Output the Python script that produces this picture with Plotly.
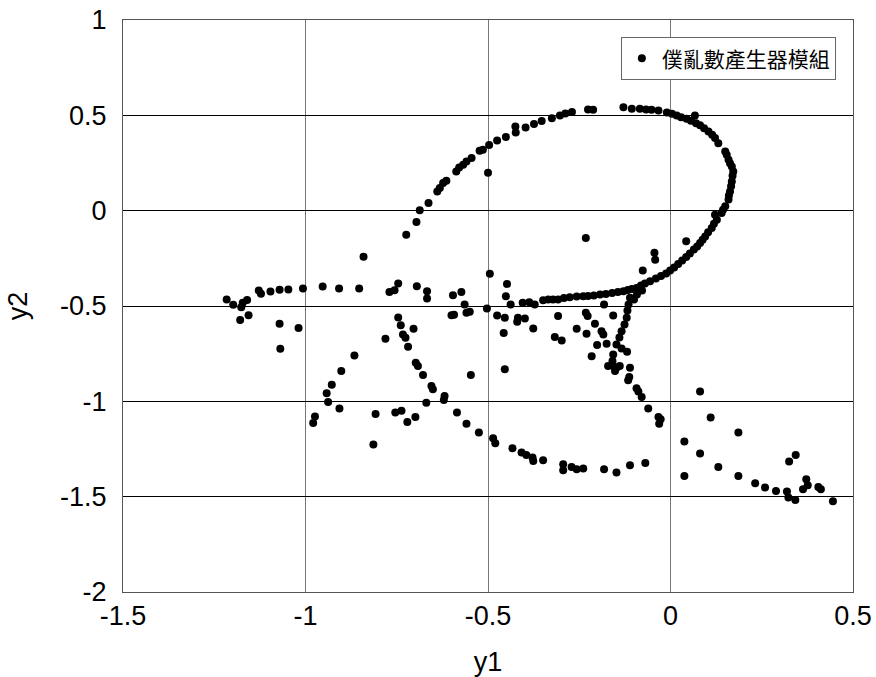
import plotly.graph_objects as go

# ---- data (y1, y2) grouped by visual structure ----
left_row_x = [-1.216,-1.198,-1.176,-1.172,-1.160,-1.179,-1.156,-1.128,-1.122,-1.096,-1.071,-1.047,-1.007,-0.953,-0.908,-0.853,-0.770,-0.756,-0.746,-1.071,-1.019,-1.069,-0.841]
left_row_y = [-0.466,-0.494,-0.506,-0.483,-0.468,-0.574,-0.548,-0.419,-0.436,-0.424,-0.415,-0.414,-0.408,-0.398,-0.408,-0.408,-0.426,-0.417,-0.382,-0.593,-0.616,-0.724,-0.242]

lower_arc_x = [-0.746,-0.739,-0.733,-0.726,-0.719,-0.698,-0.692,-0.678,-0.655,-0.651,-0.619,-0.621,-0.585,-0.559,-0.525,-0.486,-0.480,-0.433,-0.408,-0.395,-0.378,-0.376,-0.349,-0.294,-0.294,-0.271,-0.257,-0.239,-0.182,-0.148,-0.111,-0.069]
lower_arc_y = [-0.560,-0.601,-0.649,-0.666,-0.714,-0.797,-0.815,-0.862,-0.920,-0.937,-0.972,-0.993,-1.059,-1.117,-1.164,-1.194,-1.220,-1.246,-1.269,-1.281,-1.295,-1.313,-1.309,-1.330,-1.361,-1.344,-1.356,-1.352,-1.356,-1.373,-1.335,-1.323]

left_arc_x = [-0.781,-0.866,-0.902,-0.928,-0.942,-0.938,-0.907,-0.974,-0.979,-0.808,-0.754,-0.737,-0.721,-0.814,-0.699,-0.669,-0.547,-0.454,-0.704]
left_arc_y = [-0.672,-0.759,-0.841,-0.913,-0.958,-1.004,-1.037,-1.080,-1.114,-1.066,-1.058,-1.049,-1.108,-1.227,-1.082,-1.007,-0.862,-0.832,-0.619]

loop_left_x = [-0.724,-0.696,-0.687,-0.663,-0.639,-0.632,-0.623,-0.614,-0.587,-0.579,-0.568,-0.559,-0.545,-0.523,-0.514,-0.500,-0.497,-0.475,-0.451,-0.424,-0.425,-0.397,-0.374,-0.353,-0.325,-0.303,-0.288,-0.270,-0.226,-0.212,-0.232]
loop_left_y = [-0.126,-0.059,0.002,0.040,0.101,0.119,0.145,0.157,0.206,0.227,0.241,0.258,0.276,0.314,0.319,0.199,0.344,0.368,0.387,0.410,0.441,0.436,0.454,0.470,0.485,0.499,0.509,0.517,0.530,0.529,-0.143]

loop_right_x = [-0.129,-0.106,-0.084,-0.067,-0.052,-0.033,-0.010,0.004,0.017,0.029,0.044,0.067,0.056,0.070,0.081,0.092,0.104,0.114,0.122,0.131,0.150,0.154,0.159,0.163,0.168,0.172,0.170,0.168,0.166,0.163,0.160,0.159,0.150,0.144,0.140,0.122,0.127,0.119,0.113,0.103,0.095,0.088,0.081,0.043]
loop_right_y = [0.543,0.534,0.534,0.531,0.529,0.525,0.515,0.508,0.499,0.490,0.482,0.499,0.471,0.458,0.448,0.432,0.415,0.398,0.381,0.354,0.310,0.293,0.267,0.249,0.232,0.206,0.183,0.153,0.128,0.101,0.079,0.058,0.023,0.005,-0.012,-0.021,-0.047,-0.068,-0.091,-0.113,-0.135,-0.152,-0.169,-0.161]

tail_x = [0.073,0.064,0.053,0.043,0.032,0.021,0.010,-0.001,-0.012,-0.026,-0.040,-0.056,-0.070,-0.081,-0.093,-0.106,-0.117,-0.129,-0.144,-0.160,-0.177,-0.193,-0.210,-0.226,-0.239,-0.257,-0.276,-0.292,-0.308,-0.322,-0.335,-0.349,-0.372,-0.387,-0.405]
tail_y = [-0.188,-0.204,-0.225,-0.243,-0.262,-0.280,-0.298,-0.314,-0.330,-0.343,-0.356,-0.370,-0.382,-0.393,-0.405,-0.411,-0.416,-0.423,-0.427,-0.432,-0.437,-0.440,-0.445,-0.448,-0.449,-0.450,-0.454,-0.458,-0.466,-0.466,-0.466,-0.470,-0.492,-0.480,-0.483]

branch_x = [-0.111,-0.115,-0.118,-0.120,-0.126,-0.134,-0.140,-0.148,-0.134,-0.119,-0.111,-0.113,-0.116,-0.093,-0.088,-0.079,-0.061,-0.033,-0.027,-0.031,-0.092,-0.078,-0.100]
branch_y = [-0.457,-0.492,-0.524,-0.562,-0.597,-0.632,-0.665,-0.702,-0.723,-0.740,-0.824,-0.873,-0.890,-0.932,-0.949,-0.977,-1.037,-1.082,-1.094,-1.117,-0.440,-0.419,-0.466]

middle_x = [-0.695,-0.667,-0.667,-0.596,-0.573,-0.564,-0.559,-0.550,-0.600,-0.593,-0.495,-0.503,-0.448,-0.451,-0.438,-0.475,-0.454,-0.457,-0.418,-0.420,-0.399,-0.376,-0.308,-0.317,-0.232,-0.227,-0.157,-0.182,-0.207,-0.257,-0.230,-0.189,-0.184,-0.298,-0.044,-0.042,-0.076,-0.201,-0.175,-0.216,-0.157,-0.171,-0.157,-0.148,-0.139,-0.152,-0.159]
middle_y = [-0.396,-0.423,-0.461,-0.443,-0.426,-0.492,-0.536,-0.530,-0.548,-0.546,-0.331,-0.513,-0.384,-0.449,-0.492,-0.550,-0.562,-0.642,-0.562,-0.583,-0.565,-0.618,-0.553,-0.663,-0.536,-0.553,-0.550,-0.492,-0.593,-0.619,-0.646,-0.632,-0.649,-0.681,-0.221,-0.257,-0.314,-0.705,-0.698,-0.763,-0.754,-0.815,-0.815,-0.824,-0.815,-0.841,-0.789]

right_tail_x = [0.038,0.081,0.081,0.038,0.110,0.186,0.131,0.186,0.232,0.259,0.289,0.319,0.323,0.342,0.325,0.343,0.363,0.372,0.376,0.405,0.412,0.445]
right_tail_y = [-1.211,-0.949,-1.274,-1.391,-1.085,-1.164,-1.344,-1.391,-1.429,-1.452,-1.470,-1.473,-1.504,-1.518,-1.316,-1.281,-1.461,-1.408,-1.440,-1.449,-1.461,-1.524]

series_name = "僕亂數產生器模組"
x_ticks = [-1.5, -1, -0.5, 0, 0.5]
y_ticks = [1, 0.5, 0, -0.5, -1, -1.5, -2]

all_x = (left_row_x + lower_arc_x + left_arc_x + loop_left_x + loop_right_x
         + tail_x + branch_x + middle_x + right_tail_x)
all_y = (left_row_y + lower_arc_y + left_arc_y + loop_left_y + loop_right_y
         + tail_y + branch_y + middle_y + right_tail_y)

fig = go.Figure()
fig.add_trace(go.Scatter(
    x=all_x, y=all_y, mode="markers", name=series_name,
    marker=dict(color="black", size=8, line=dict(width=0)),
    showlegend=True,
))

tick_font = dict(family="Liberation Sans, Arial, sans-serif", size=27, color="black")

fig.update_layout(
    width=876, height=677,
    margin=dict(l=123, r=23, t=20, b=85, autoexpand=False),
    paper_bgcolor="white", plot_bgcolor="white",
    showlegend=True,
    legend=dict(
        x=0.682, y=0.97, xanchor="left", yanchor="top",
        bgcolor="white", bordercolor="#666", borderwidth=1,
        font=dict(family="Noto Sans CJK TC", size=21, color="black"),
    ),
    xaxis=dict(
        range=[-1.5, 0.5], tickvals=x_ticks, ticktext=[f"{v:g}" for v in x_ticks],
        showgrid=True, gridcolor="#777", gridwidth=1, zeroline=False,
        showline=True, linecolor="#555", linewidth=1, mirror=True,
        ticks="", ticklabeloverflow="allow",
        tickfont=tick_font,
        title=dict(text="y1", font=tick_font, standoff=24),
    ),
    yaxis=dict(
        range=[-2, 1], tickvals=y_ticks, ticktext=[f"{v:g}" for v in y_ticks],
        showgrid=True, gridcolor="black", gridwidth=1, zeroline=False,
        showline=True, linecolor="#555", linewidth=1, mirror=True,
        ticks="outside", ticklen=10, tickcolor="rgba(0,0,0,0)",
        ticklabeloverflow="allow",
        tickfont=tick_font,
        title=dict(text="y2", font=tick_font, standoff=24),
    ),
)

fig.write_html(
    "out.html",
    config={"displayModeBar": False},
    post_script="document.body.style.margin='0';document.body.style.overflow='hidden';",
)
